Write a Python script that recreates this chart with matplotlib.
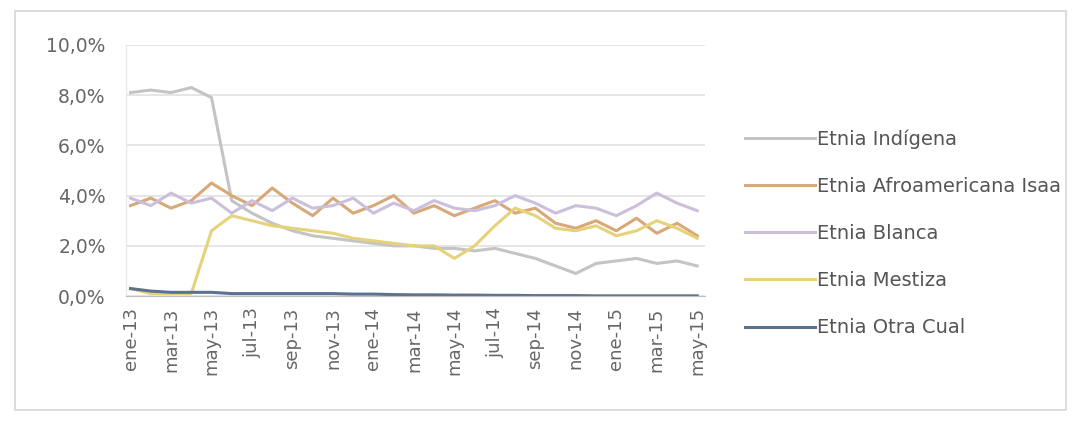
import numpy as np
import matplotlib.pyplot as plt
from matplotlib.patches import Rectangle
from matplotlib.ticker import FuncFormatter

# monthly points, a label every second month
months = ['ene-13', 'feb-13', 'mar-13', 'abr-13', 'may-13', 'jun-13', 'jul-13', 'ago-13',
          'sep-13', 'oct-13', 'nov-13', 'dic-13', 'ene-14', 'feb-14', 'mar-14', 'abr-14',
          'may-14', 'jun-14', 'jul-14', 'ago-14', 'sep-14', 'oct-14', 'nov-14', 'dic-14',
          'ene-15', 'feb-15', 'mar-15', 'abr-15', 'may-15']

indigena = [8.1, 8.2, 8.1, 8.3, 7.9, 3.8, 3.3, 2.9, 2.6, 2.4, 2.3, 2.2, 2.1, 2.0, 2.0,
            1.9, 1.9, 1.8, 1.9, 1.7, 1.5, 1.2, 0.9, 1.3, 1.4, 1.5, 1.3, 1.4, 1.2]
afro = [3.6, 3.9, 3.5, 3.8, 4.5, 4.0, 3.6, 4.3, 3.7, 3.2, 3.9, 3.3, 3.6, 4.0, 3.3,
        3.6, 3.2, 3.5, 3.8, 3.3, 3.5, 2.9, 2.7, 3.0, 2.6, 3.1, 2.5, 2.9, 2.4]
blanca = [3.9, 3.6, 4.1, 3.7, 3.9, 3.3, 3.8, 3.4, 3.9, 3.5, 3.6, 3.9, 3.3, 3.7, 3.4,
          3.8, 3.5, 3.4, 3.6, 4.0, 3.7, 3.3, 3.6, 3.5, 3.2, 3.6, 4.1, 3.7, 3.4]
mestiza = [0.3, 0.1, 0.1, 0.1, 2.6, 3.2, 3.0, 2.8, 2.7, 2.6, 2.5, 2.3, 2.2, 2.1, 2.0,
           2.0, 1.5, 2.0, 2.8, 3.5, 3.2, 2.7, 2.6, 2.8, 2.4, 2.6, 3.0, 2.7, 2.3]
otra = [0.3, 0.2, 0.15, 0.15, 0.15, 0.1, 0.1, 0.1, 0.1, 0.1, 0.1, 0.08, 0.08, 0.06, 0.05,
        0.05, 0.04, 0.04, 0.03, 0.03, 0.02, 0.02, 0.02, 0.01, 0.01, 0.01, 0.01, 0.01, 0.01]

series = [('Etnia Indígena', indigena, '#c4c4c4'),
          ('Etnia Afroamericana Isaa', afro, '#d8a878'),
          ('Etnia Blanca', blanca, '#cbbfdc'),
          ('Etnia Mestiza', mestiza, '#e6d27a'),
          ('Etnia Otra Cual', otra, '#5d7190')]

fig = plt.figure(figsize=(10.72, 4.23), dpi=100)
fig.patches.append(Rectangle((0.014, 0.03), 0.98, 0.945, transform=fig.transFigure,
                             fill=False, edgecolor='#d6d6d6', lw=1.2))

ax = fig.add_axes([0.118, 0.30, 0.54, 0.594])
x = np.arange(len(months))
for name, vals, col in series:
    ax.plot(x, vals, color=col, lw=2.2, label=name)

ax.set_ylim(0, 10)
ax.set_yticks(np.arange(0, 10.1, 2))
ax.yaxis.set_major_formatter(FuncFormatter(lambda v, p: ('%.1f%%' % v).replace('.', ',')))
ax.set_xlim(-0.2, len(months) - 0.6)
ax.set_xticks(x[::2])
ax.set_xticklabels(months[::2], rotation=90, fontsize=13, color='#666666')
ax.tick_params(axis='y', labelsize=13.5, colors='#666666', length=0, pad=15)
ax.tick_params(axis='x', length=0, pad=8)
ax.grid(axis='y', color='#e2e2e2', lw=1.2)
ax.set_axisbelow(True)
for s in ['top', 'right']:
    ax.spines[s].set_visible(False)
ax.spines['left'].set_color('#e6e6e6')
ax.spines['bottom'].set_color('#bfbfbf')

ax.legend(loc='center left', bbox_to_anchor=(1.055, 0.25), borderaxespad=0, frameon=False,
          fontsize=14, handlelength=3.6, handletextpad=0.1, labelspacing=1.45,
          labelcolor='#555555')

plt.savefig('out.png', dpi=100)
